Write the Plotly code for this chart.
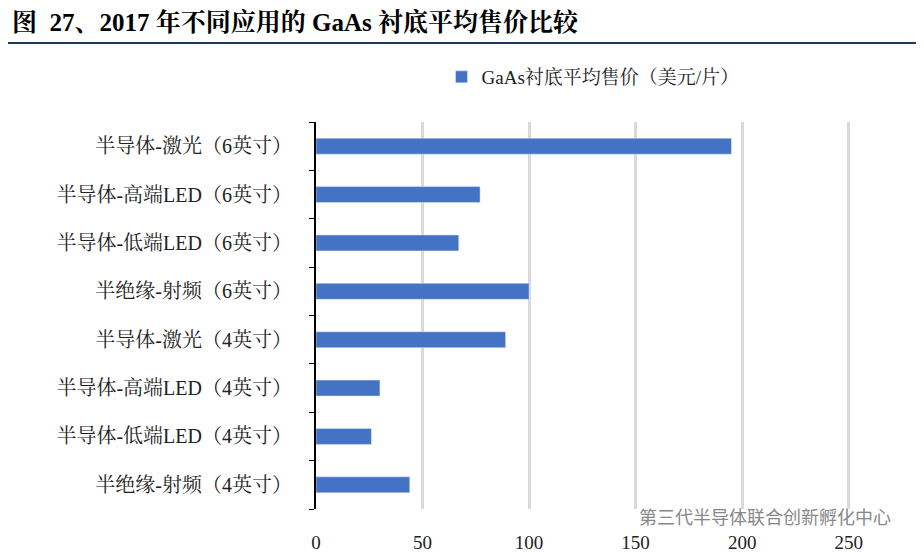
import plotly.graph_objects as go

categories = ["半导体-激光（6英寸）", "半导体-高端LED（6英寸）", "半导体-低端LED（6英寸）", "半绝缘-射频（6英寸）",
              "半导体-激光（4英寸）", "半导体-高端LED（4英寸）", "半导体-低端LED（4英寸）", "半绝缘-射频（4英寸）"]
values = [195, 77, 67, 100, 89, 30, 26, 44]
series_name = "GaAs衬底平均售价（美元/片）"
x_ticks = [0, 50, 100, 150, 200, 250]

font = "Liberation Serif, Noto Serif CJK SC, Noto Sans CJK SC"
H = 387
W = 554
fig = go.Figure(go.Bar(y=categories, x=values, orientation="h", name=series_name,
                       marker_color="#4472C4", width=0.33))
fig.update_layout(
    width=916, height=552, paper_bgcolor="white", plot_bgcolor="white",
    margin=dict(l=308, r=54, t=114, b=51, autoexpand=False),
    font=dict(family=font, size=18, color="#222"),
    showlegend=True,
    legend=dict(orientation="h", x=0.5, xanchor="center", y=1 + 45 / H, yanchor="middle",
                yref="paper", font=dict(size=19)),
    bargap=0.5,
)
fig.update_xaxes(range=[0, 260], tickvals=x_ticks, showgrid=True, gridcolor="#D9D9D9", gridwidth=3,
                 zeroline=False, showline=False, tickfont=dict(size=19), ticklabelstandoff=20,
                 automargin=False)
fig.update_yaxes(categoryorder="array", categoryarray=categories[::-1], showline=True, linecolor="black",
                 linewidth=2, ticks="outside", ticklen=5, tickcolor="black", showgrid=False,
                 ticklabelstandoff=18, tickson="boundaries", tickfont=dict(size=20), automargin=False)
fig.add_annotation(text="<b>图  27、2017 年不同应用的 GaAs 衬底平均售价比较</b>", xref="paper", yref="paper",
                   x=-306 / W, y=1.0 + (122 - 22) / H, xanchor="left", yanchor="middle", showarrow=False,
                   font=dict(size=25, color="black", family=font))
fig.add_shape(type="line", xref="paper", yref="paper", x0=-316 / W, x1=1 + 62 / W,
              y0=1 + (122 - 43) / H, y1=1 + (122 - 43) / H, line=dict(color="#1F3864", width=2))
fig.add_annotation(text="第三代半导体联合创新孵化中心", xref="paper", yref="paper",
                   x=1 + 23 / W, y=-(516 - 509) / H, xanchor="right", yanchor="middle", showarrow=False,
                   font=dict(size=18, color="#888", family="Noto Sans CJK SC"))
fig.write_html("out.html")
